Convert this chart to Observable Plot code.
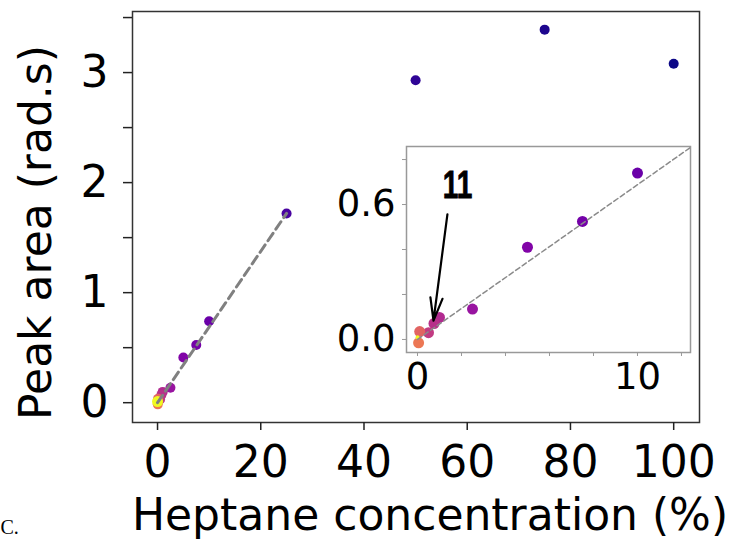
<!DOCTYPE html>
<html><head><meta charset="utf-8">
<script src="https://cdn.jsdelivr.net/npm/d3@7"></script>
<script src="https://cdn.jsdelivr.net/npm/@observablehq/plot@0.6"></script>
<style>
body{margin:0;background:#fff;}
#wrap{position:relative;width:732px;height:539px;overflow:hidden;background:#fff;}
#wrap svg{position:absolute;left:0;top:0;}
</style></head><body><div id="wrap"></div>
<script>
// Heptane concentration (%) and peak area (rad.s)
const concentration = [100, 75, 50, 25, 10, 7.5, 5, 2.5, 1, 0.75, 0.5, 0.1, 0.05, 0.001];
const peakArea      = [3.08, 3.39, 2.93, 1.72, 0.74, 0.525, 0.41, 0.135, 0.098, 0.071, 0.03, 0.035, -0.015, 0.01];
// linear fit line
const fitX = [0, 25];
const fitY = [0, 1.72];
// ticks
const mainXTicks = [0, 20, 40, 60, 80, 100];
const mainYTicks = [0, 1, 2, 3];
const mainYMinor = [0.5, 1.5, 2.5, 3.5];
const insetXTicks = [0, 10];
const insetXMinor = [2, 4, 6, 8, 12];
const insetYTicks = [0, 0.6];
const insetYMinor = [0.2, 0.4, 0.8];
// annotation
const annotationText = ["11"];
const annotationPos = [1.82, 0.631];
const arrowStart = [1.36, 0.556];
const arrowEnd = [0.727, 0.084];
const xLabel = "Heptane concentration (%)";
const yLabel = "Peak area (rad.s)";
const panelLabel = "C.";

const points = concentration.map((c, i) => ({c, a: peakArea[i]}));
const fit = fitX.map((x, i) => ({x, y: fitY[i]}));
const colorOpts = {type: "log", scheme: "plasma", domain: [0.001, 100], reverse: true};
const font = "DejaVu Sans";

const main = Plot.plot({
  width: 732, height: 539,
  marginLeft: 132, marginRight: 33, marginTop: 11, marginBottom: 117,
  style: {fontFamily: font, background: "transparent", overflow: "visible"},
  x: {domain: [-4.85, 105]},
  y: {domain: [-0.18, 3.555]},
  color: colorOpts,
  marks: [
    Plot.frame({stroke: "#333", strokeWidth: 1.5}),
    Plot.axisX(mainXTicks, {tickSize: 8, tickPadding: 15, fontSize: 44, tickFormat: d => String(d), stroke: "#222", fill: "black", strokeWidth: 1.5, label: null}),
    Plot.axisY(mainYTicks, {tickSize: 9, tickPadding: 15, fontSize: 44, tickFormat: d => String(d), stroke: "#222", fill: "black", strokeWidth: 1.5, label: null}),
    Plot.axisY(mainYMinor, {tickSize: 9, tickFormat: () => "", stroke: "#222", strokeWidth: 1.5, label: null}),
    Plot.dot(points.filter(d => d.c > 0.01), {x: "c", y: "a", fill: "c", r: 5}),
    Plot.dot(points.filter(d => d.c <= 0.01), {x: "c", y: "a", fill: "c", r: 5.5}),
    Plot.line(fit, {x: "x", y: "y", stroke: "#808080", strokeWidth: 3, strokeDasharray: "9,5"}),
    Plot.text([xLabel], {text: d => d, frameAnchor: "bottom", textAnchor: "middle", lineAnchor: "bottom", dx: 14, dy: 107, fontSize: 44, fill: "black"}),
    Plot.text([yLabel], {text: d => d, frameAnchor: "left", textAnchor: "middle", lineAnchor: "bottom", rotate: -90, dx: -82, dy: 15.5, fontSize: 44, fill: "black"}),
    Plot.text([panelLabel], {text: d => d, frameAnchor: "bottom-left", textAnchor: "start", lineAnchor: "bottom", dx: -132, dy: 111, fontSize: 20, fontFamily: "Liberation Serif", fill: "black"})
  ]
});

const inset = Plot.plot({
  width: 732, height: 539,
  marginLeft: 406, marginRight: 42, marginTop: 146, marginBottom: 187,
  style: {fontFamily: font, background: "transparent", overflow: "visible"},
  x: {domain: [-0.5, 12.41]},
  y: {domain: [-0.058, 0.858]},
  color: colorOpts,
  marks: [
    Plot.frame({fill: "white", stroke: "#999", strokeWidth: 1.5}),
    Plot.axisX(insetXTicks, {tickSize: 4, tickPadding: 6, fontSize: 37, tickFormat: d => String(d), stroke: "#999", fill: "black", label: null}),
    Plot.axisX(insetXMinor, {tickSize: 4, tickFormat: () => "", stroke: "#999", label: null}),
    Plot.axisY(insetYTicks, {tickSize: 4, tickPadding: 7, fontSize: 37, tickFormat: d => d.toFixed(1), stroke: "#999", fill: "black", label: null}),
    Plot.axisY(insetYMinor, {tickSize: 4, tickFormat: () => "", stroke: "#999", label: null}),
    Plot.dot(points.filter(d => d.c > 0.01), {x: "c", y: "a", fill: "c", r: 5.5}),
    Plot.dot(points.filter(d => d.c <= 0.01), {x: "c", y: "a", fill: "c", r: 2}),
    Plot.line(fit, {x: "x", y: "y", stroke: "#8a8a8a", strokeWidth: 1.5, strokeDasharray: "5,3", clip: true}),
    Plot.arrow([{x1: arrowStart[0], y1: arrowStart[1], x2: arrowEnd[0], y2: arrowEnd[1]}],
      {x1: "x1", y1: "y1", x2: "x2", y2: "y2", stroke: "black", strokeWidth: 2.2, headLength: 16, headAngle: 30}),
    Plot.text(annotationText, {text: d => d, x: () => annotationPos[0], y: () => annotationPos[1], textAnchor: "middle", lineAnchor: "bottom",
      fontSize: 39, fontWeight: "bold", fontFamily: "Liberation Sans", fill: "black", className: "annot"})
  ]
});

// condense the bold annotation label horizontally
d3.select(inset).selectAll(".annot text").attr("transform", function () {
  return (this.getAttribute("transform") || "") + " scale(0.72,1)";
}).style("stroke", "black").style("stroke-width", "0.8px");

const wrap = document.getElementById("wrap");
wrap.appendChild(main);
wrap.appendChild(inset);
</script>
</body></html>
